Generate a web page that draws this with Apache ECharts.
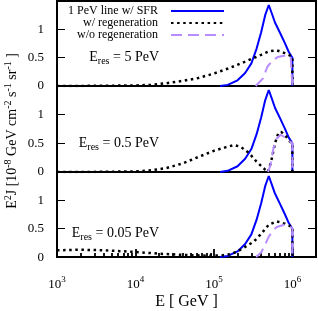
<!DOCTYPE html>
<html>
<head>
<meta charset="utf-8">
<script src="https://cdn.jsdelivr.net/npm/echarts@6/dist/echarts.min.js"></script>
<style>html,body{margin:0;padding:0;background:#fff}#c{width:318px;height:311px}</style>
</head>
<body>
<div id="c"></div>
<script>
// ---- data ----
const seriesNames = ['1 PeV line w/ SFR', 'w/ regeneration', 'w/o regeneration'];
const panelLabels = ['5', '0.5', '0.05']; // E_res in PeV
const xTickValues = [1e3, 1e4, 1e5, 1e6];
const xMinorTicks = [2e3,3e3,4e3,5e3,6e3,7e3,8e3,9e3,2e4,3e4,4e4,5e4,6e4,7e4,8e4,9e4,2e5,3e5,4e5,5e5,6e5,7e5,8e5,9e5];
const yTickValues = [0, 0.5, 1];

// 1 PeV line w/ SFR (same in all panels)
const lineE = [1.2e5, 1.5e5, 2e5, 2.5e5, 3e5, 3.5e5, 4e5, 4.5e5, 5e5, 5.5e5, 6e5, 7e5, 8e5, 9e5, 1e6, 1e6];
const lineY = [0, 0.02, 0.1, 0.23, 0.4, 0.66, 0.95, 1.25, 1.43, 1.27, 1.12, 0.93, 0.76, 0.6, 0.5, 0];

// Panel 1: E_res = 5 PeV
const regen1E = [1e3, 3e3, 1e4, 1.6e4, 2.5e4, 4e4, 6.3e4, 1e5, 1.6e5, 2.5e5, 4e5, 5e5, 6.3e5, 8e5, 1e6, 1e6];
const regen1Y = [0, 0.003, 0.01, 0.02, 0.05, 0.09, 0.14, 0.22, 0.32, 0.43, 0.55, 0.61, 0.63, 0.58, 0.52, 0];
const noRegen1E = [3.4e5, 4.2e5, 4.8e5, 5.6e5, 6.5e5, 8.3e5, 9.5e5, 1e6, 1e6];
const noRegen1Y = [0, 0.13, 0.34, 0.45, 0.51, 0.54, 0.52, 0.51, 0];

// Panel 2: E_res = 0.5 PeV
const regen2E = [1e3, 3e3, 1e4, 1.6e4, 2.5e4, 4e4, 6.3e4, 1e5, 1.4e5, 1.8e5, 2.2e5, 2.8e5, 3.5e5, 4.5e5, 4.9e5, 5.4e5, 6e5, 6.6e5, 7.2e5, 8.3e5, 9.3e5, 1e6, 1e6];
const regen2Y = [0, 0.002, 0.01, 0.03, 0.07, 0.15, 0.26, 0.37, 0.43, 0.47, 0.44, 0.33, 0.18, 0.04, 0, 0.2, 0.5, 0.67, 0.7, 0.62, 0.53, 0.5, 0];
const noRegen2E = [4.9e5, 5.25e5, 5.75e5, 6.3e5, 7.1e5, 7.9e5, 8.9e5, 1e6, 1e6];
const noRegen2Y = [0, 0.12, 0.42, 0.58, 0.65, 0.61, 0.55, 0.5, 0];

// Panel 3: E_res = 0.05 PeV
const regen3E = [1e3, 2e3, 4e3, 1e4, 2e4, 4e4, 8e4, 1.26e5, 1.6e5, 2e5, 2.5e5, 3.2e5, 4e5, 5e5, 6.3e5, 8e5, 1e6, 1e6];
const regen3Y = [0.12, 0.13, 0.12, 0.09, 0.06, 0.04, 0.025, 0.03, 0.05, 0.1, 0.18, 0.27, 0.41, 0.57, 0.63, 0.59, 0.53, 0];
const noRegen3E = [3.45e5, 4e5, 4.5e5, 5e5, 5.6e5, 6.3e5, 7.9e5, 8.9e5, 1e6, 1e6];
const noRegen3Y = [0, 0.08, 0.22, 0.36, 0.46, 0.53, 0.57, 0.55, 0.51, 0];

// ---- chart ----
const FONT = 'Liberation Serif';
const X_MIN = 1e3, X_MAX = 2e6;
const zip = (xs, ys) => xs.map((x, i) => [x, ys[i]]);
const panels = [
  {regenE: regen1E, regenY: regen1Y, noE: noRegen1E, noY: noRegen1Y},
  {regenE: regen2E, regenY: regen2Y, noE: noRegen2E, noY: noRegen2Y},
  {regenE: regen3E, regenY: regen3Y, noE: noRegen3E, noY: noRegen3Y}
];
const gridTops = [1, 86, 172];
const gridHeights = [85, 86, 86];

const grids = gridTops.map((t, i) => ({
  left: 57, right: 2, top: t, height: gridHeights[i],
  show: true, borderColor: '#000', borderWidth: 2
}));

const xAxes = [];
for (let i = 0; i < 3; i++) {
  const bottom = i === 2;
  xAxes.push({
    type: 'log', logBase: 10, min: X_MIN, max: X_MAX, gridIndex: i, position: 'bottom',
    axisLine: {show: bottom, onZero: false, lineStyle: {color: '#000', width: 2}},
    splitLine: {show: false},
    axisTick: {show: false},
    axisLabel: {
      show: bottom, margin: 18, color: '#000', fontFamily: FONT, fontSize: 13, lineHeight: 18,
      customValues: xTickValues,
      formatter: v => '10{sup|' + Math.round(Math.log10(v)) + '}',
      rich: {sup: {fontSize: 9, lineHeight: 10, verticalAlign: 'top', fontFamily: FONT, color: '#000'}}
    },
    name: bottom ? 'E [ GeV ]' : '',
    nameLocation: 'middle', nameGap: 36,
    nameTextStyle: {fontFamily: FONT, fontSize: 16, color: '#000'}
  });
}
// tick helper axes on the bottom (log10 units): minor (index 3) and major (index 4)
[[xMinorTicks, 4], [xTickValues, 8]].forEach(([vals, len]) => {
  xAxes.push({
    type: 'value', min: Math.log10(X_MIN), max: Math.log10(X_MAX), gridIndex: 2, position: 'bottom', offset: 0,
    axisLine: {show: false, onZero: false}, splitLine: {show: false}, axisLabel: {show: false},
    axisTick: {show: true, inside: true, length: len, lineStyle: {color: '#000', width: 1.8},
      customValues: vals.map(v => Math.log10(v))}
  });
});

const yAxes = [];
['left', 'right'].forEach(pos => {
  for (let i = 0; i < 3; i++) {
    yAxes.push({
      type: 'value', min: 0, max: 1.5, interval: 0.5, gridIndex: i, position: pos,
      axisLine: {show: false}, splitLine: {show: false},
      axisTick: {show: true, inside: true, length: 8, lineStyle: {color: '#000', width: 1}, customValues: [0.5, 1]},
      axisLabel: {
        show: pos === 'left', margin: 13, color: '#000', fontFamily: FONT, fontSize: 13,
        customValues: yTickValues, formatter: v => String(v)
      }
    });
  }
});

const series = [];
panels.forEach((p, i) => {
  series.push({name: seriesNames[0], type: 'line', xAxisIndex: i, yAxisIndex: i, symbol: 'none',
    data: zip(lineE, lineY), color: '#0000ff', lineStyle: {color: '#0000ff', width: 2}, z: 3});
  series.push({name: seriesNames[1], type: 'line', xAxisIndex: i, yAxisIndex: i, symbol: 'none',
    data: zip(p.regenE, p.regenY), color: '#000', lineStyle: {color: '#000', width: 2.5, type: [2.5, 3.6]}, z: 4});
  series.push({name: seriesNames[2], type: 'line', xAxisIndex: i, yAxisIndex: i, symbol: 'none',
    data: zip(p.noE, p.noY), color: '#b98cff', lineStyle: {color: '#b98cff', width: 2, type: [11, 6]}, z: 5});
});

const labelRich = {sub: {fontSize: 10, lineHeight: 10, verticalAlign: 'bottom', fontFamily: FONT, fill: '#000'}};
const labelYs = [57, 143, 233];
const graphics = panelLabels.map((v, i) => ({
  type: 'text', x: 159, y: labelYs[i], z: 10,
  style: {text: 'E{sub|res} = ' + v + ' PeV', fontFamily: FONT, fontSize: 14, lineHeight: 18,
    fill: '#000', align: 'right', verticalAlign: 'middle', rich: labelRich}
}));
graphics.push({
  type: 'text', x: 12, y: 131, rotation: Math.PI / 2, z: 10,
  style: {text: 'E{sup|2}J [10{sup|-8} GeV cm{sup|-2} s{sup|-1} sr{sup|-1} ]',
    fontFamily: FONT, fontSize: 14, lineHeight: 18, fill: '#000', align: 'center', verticalAlign: 'middle',
    rich: {sup: {fontSize: 10, lineHeight: 11, verticalAlign: 'top', fontFamily: FONT, fill: '#000'}}}
});

const chart = echarts.init(document.getElementById('c'), null, {renderer: 'canvas'});
chart.setOption({
  animation: false, backgroundColor: '#fff',
  grid: grids, xAxis: xAxes, yAxis: yAxes,
  legend: {data: seriesNames, orient: 'vertical', right: 93, top: 5, padding: 0,
    itemWidth: 53, itemHeight: 10, itemGap: 0, align: 'right', itemStyle: {opacity: 0},
    textStyle: {fontFamily: FONT, fontSize: 12, color: '#000', lineHeight: 10, padding: [0, 8, 0, 0]}},
  graphic: graphics, series: series
});
</script>
</body>
</html>
